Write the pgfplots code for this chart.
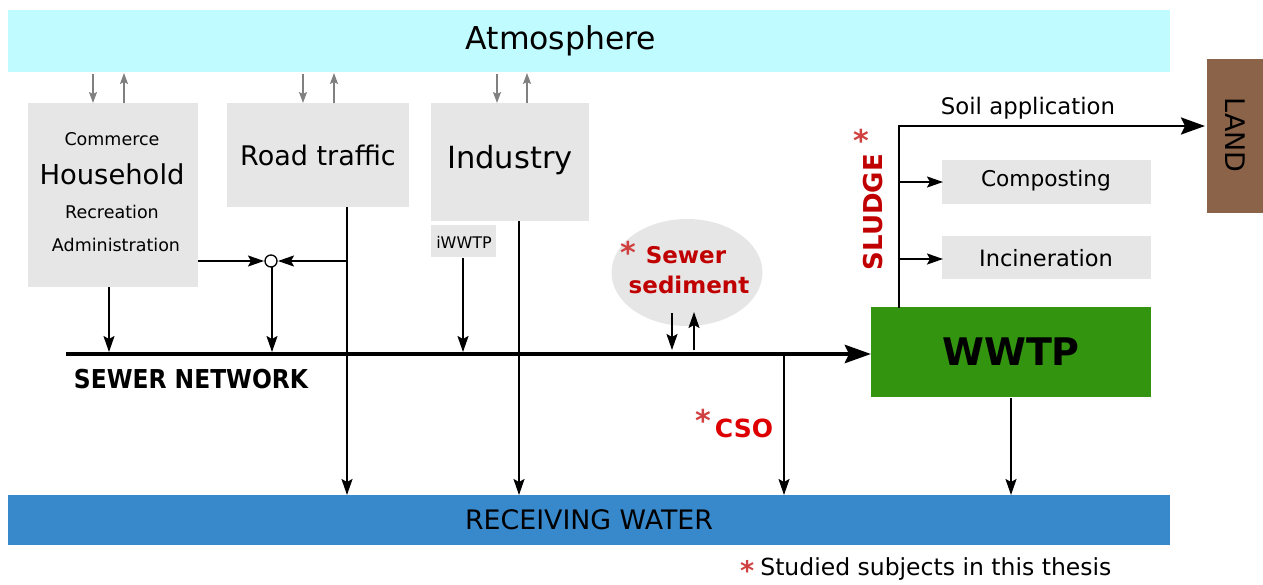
\documentclass[border=0pt]{standalone}
\usepackage{pgfplots}
\pgfplotsset{compat=1.18}
\usepackage{fontspec}
\setmainfont{DejaVu Sans}
\newfontfamily\condfont{DejaVu Sans Condensed}
\usetikzlibrary{arrows.meta}
\definecolor{atm}{RGB}{192,252,255}
\definecolor{boxg}{RGB}{230,230,230}
\definecolor{wgreen}{RGB}{51,148,16}
\definecolor{land}{RGB}{139,99,72}
\definecolor{water}{RGB}{56,137,204}
\definecolor{dred}{RGB}{192,0,0}
\definecolor{bred}{RGB}{222,0,0}
\definecolor{ared}{RGB}{208,64,64}
\definecolor{garr}{RGB}{128,128,128}
\newcommand{\fs}[1]{\fontsize{#1}{#1}\selectfont}
\begin{document}
\begin{tikzpicture}
\begin{axis}[width=1263pt,height=584pt,scale only axis,
  xmin=0,xmax=1263,ymin=0,ymax=584,y dir=reverse,hide axis,clip=false]
% boxes
\addplot[fill=atm,draw=none] coordinates {(8,10) (1170,10) (1170,72) (8,72)} --cycle;
\addplot[fill=boxg,draw=none] coordinates {(28,103) (198,103) (198,287) (28,287)} --cycle;
\addplot[fill=boxg,draw=none] coordinates {(227,103) (409,103) (409,207) (227,207)} --cycle;
\addplot[fill=boxg,draw=none] coordinates {(431,103) (589,103) (589,221) (431,221)} --cycle;
\addplot[fill=boxg,draw=none] coordinates {(431,225) (496,225) (496,257) (431,257)} --cycle;
\addplot[fill=boxg,draw=none] coordinates {(942,160) (1151,160) (1151,204) (942,204)} --cycle;
\addplot[fill=boxg,draw=none] coordinates {(942,236) (1151,236) (1151,279) (942,279)} --cycle;
\addplot[fill=wgreen,draw=none] coordinates {(871,307) (1151,307) (1151,397) (871,397)} --cycle;
\addplot[fill=land,draw=none] coordinates {(1207,59) (1263,59) (1263,213) (1207,213)} --cycle;
\addplot[fill=water,draw=none] coordinates {(8,495) (1170,495) (1170,545) (8,545)} --cycle;
\fill[boxg] (axis cs:687,272.5) ellipse [x radius=75.5pt, y radius=53.5pt];
% gray arrows
\pgfplotsset{garrow/.style={draw=garr,line width=1.6pt,-{Stealth[length=11pt,width=8pt,inset=2pt]}}}
\addplot[garrow] coordinates {(93,74) (93,103)};
\addplot[garrow] coordinates {(124,103) (124,73)};
\addplot[garrow] coordinates {(303,74) (303,103)};
\addplot[garrow] coordinates {(334,103) (334,73)};
\addplot[garrow] coordinates {(497,74) (497,103)};
\addplot[garrow] coordinates {(527,103) (527,73)};
% black arrows
\pgfplotsset{barrow/.style={draw=black,line width=1.9pt,-{Stealth[length=16pt,width=11pt,inset=3pt]}}}
\addplot[barrow] coordinates {(198,261) (264,261)};
\addplot[barrow] coordinates {(347,261) (278,261)};
\addplot[barrow] coordinates {(109,287) (109,352)};
\addplot[barrow] coordinates {(272,267) (272,352)};
\addplot[barrow] coordinates {(347,207) (347,495)};
\addplot[barrow] coordinates {(463,258) (463,352)};
\addplot[barrow] coordinates {(519,221) (519,495)};
\addplot[barrow] coordinates {(672,313) (672,350)};
\addplot[barrow] coordinates {(694,350) (694,312)};
\addplot[barrow] coordinates {(784,354) (784,495)};
\addplot[barrow] coordinates {(1011,398) (1011,495)};
\addplot[barrow] coordinates {(899,182) (943,182)};
\addplot[barrow] coordinates {(899,259) (943,259)};
\addplot[draw=black,line width=2.8pt,-{Stealth[length=24pt,width=17pt,inset=4pt]}] coordinates {(899,308) (899,126) (1205,126)};
\addplot[draw=black,line width=4.5pt,-{Stealth[length=26pt,width=18pt,inset=4pt]}] coordinates {(66,354) (871,354)};
\addplot[only marks,mark=*,mark size=6pt,mark options={fill=white,draw=black,line width=1.3pt}] coordinates {(271,261)};
% texts
\node at (axis cs:561,41) {\fs{31.5}Atmosphere};
\node at (axis cs:112,139) {\fs{17.5}Commerce};
\node at (axis cs:112,174) {\fs{27.4}Household};
\node at (axis cs:112,212) {\fs{17.5}Recreation};
\node at (axis cs:116,245) {\fs{17.5}Administration};
\node at (axis cs:318,155) {\fs{27}Road traffic};
\node at (axis cs:510,160) {\fs{30.5}Industry};
\node at (axis cs:464,242) {\fs{16}iWWTP};
\node at (axis cs:686,255) {\fs{23}\bfseries\color{dred}Sewer};
\node at (axis cs:628,252) {\fs{30}\bfseries\color{ared}*};
\node at (axis cs:689,285) {\fs{23}\bfseries\color{dred}sediment};
\node at (axis cs:191,379) {\fs{26}\condfont\bfseries SEWER NETWORK};
\node at (axis cs:744,428) {\fs{25}\bfseries\color{bred}CSO};
\node at (axis cs:703,420) {\fs{30}\bfseries\color{ared}*};
\node at (axis cs:1011,352) {\fs{38}\bfseries WWTP};
\node at (axis cs:1028,108) {\fs{22.8}Soil application};
\node at (axis cs:1046,181) {\fs{21.7}Composting};
\node at (axis cs:1046,258) {\fs{22.5}Incineration};
\node[rotate=90] at (axis cs:873,212) {\fs{26}\bfseries\color{dred}SLUDGE};
\node at (axis cs:861,140) {\fs{30}\bfseries\color{ared}*};
\node[rotate=-90] at (axis cs:1235,135) {\fs{27}LAND};
\node at (axis cs:589,520) {\fs{26.8}RECEIVING WATER};
\node[anchor=base west,inner sep=0pt] at (axis cs:740,575) {\fs{23.5}{\color{ared}\bfseries\fs{27}\raisebox{-5pt}[\height][0pt]{*}}\hspace{6pt}Studied subjects in this thesis};
\end{axis}
\pgfresetboundingbox
\useasboundingbox (0,0) rectangle (1263pt,584pt);
\end{tikzpicture}
\end{document}
